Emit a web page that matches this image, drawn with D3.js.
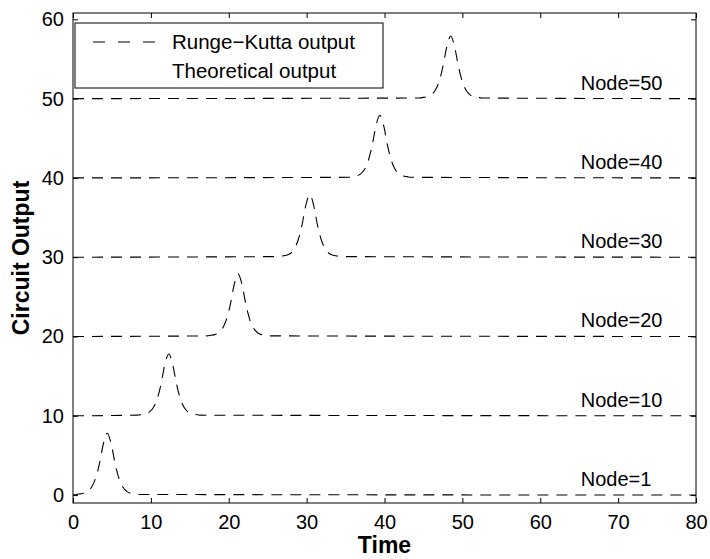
<!DOCTYPE html>
<html>
<head>
<meta charset="utf-8">
<script src="https://cdn.jsdelivr.net/npm/d3@7"></script>
<style>
  body { margin: 0; background: #fff; }
  text { font-family: "Liberation Sans", Arial, sans-serif; fill: #000; }
</style>
</head>
<body>
<div id="chart"></div>
<script>
// values
var nodes = [1, 10, 20, 30, 40, 50];
var baselines = [0, 10, 20, 30, 40, 50];
var peakTimes = [4.4, 12.3, 21.2, 30.4, 39.4, 48.5];
var peakHeights = [7.8, 7.8, 7.9, 7.9, 7.9, 7.9];
// pulse shape around the peak (time offset, fraction of peak)
var pulseOffsets = [-4, -3.5, -3, -2.5, -2, -1.5, -1, -0.5, 0, 0.5, 1, 1.5, 2, 2.5, 3, 3.5, 4];
var pulseShape   = [0.01, 0.02, 0.03, 0.06, 0.13, 0.27, 0.51, 0.83, 1, 0.83, 0.51, 0.27, 0.13, 0.06, 0.03, 0.02, 0.01];
var xTicks = [0, 10, 20, 30, 40, 50, 60, 70, 80];
var yTicks = [0, 10, 20, 30, 40, 50, 60];
var legendLabels = ["Runge\u2212Kutta output", "Theoretical output"];

var margin = {top: 13, right: 14, bottom: 56, left: 73},
    width = 710 - margin.left - margin.right,
    height = 559 - margin.top - margin.bottom;

var svg = d3.select("#chart")
  .append("svg")
    .attr("width", 710)
    .attr("height", 559)
  .append("g")
    .attr("transform", "translate(" + margin.left + "," + margin.top + ")");

var x = d3.scaleLinear().domain([0, 80]).range([0, width]);
var y = d3.scaleLinear().domain([-1, 60.8]).range([height, 0]);

// frame
svg.append("rect")
  .attr("width", width).attr("height", height)
  .attr("fill", "none").attr("stroke", "#000").attr("stroke-width", 1);

// axes with inward ticks
var xAxis = svg.append("g")
  .attr("transform", "translate(0," + height + ")")
  .call(d3.axisBottom(x).tickValues(xTicks).tickSizeInner(-5).tickSizeOuter(0).tickPadding(12));
var xTop = svg.append("g")
  .call(d3.axisTop(x).tickValues(xTicks).tickSizeInner(-5).tickSizeOuter(0).tickFormat(""));
var yAxis = svg.append("g")
  .call(d3.axisLeft(y).tickValues(yTicks).tickSizeInner(-5).tickSizeOuter(0).tickPadding(9));
var yRight = svg.append("g")
  .attr("transform", "translate(" + width + ",0)")
  .call(d3.axisRight(y).tickValues(yTicks).tickSizeInner(-5).tickSizeOuter(0).tickFormat(""));

svg.selectAll(".domain").remove();
svg.selectAll(".tick line").attr("stroke", "#000");
svg.selectAll(".tick text")
  .style("font-size", "20px")
  .style("font-family", "'Liberation Sans', Arial, sans-serif");

// axis titles
svg.append("text")
  .attr("x", x(40)).attr("y", height + 50)
  .attr("text-anchor", "middle")
  .style("font-size", "23px").style("font-weight", "bold")
  .text("Time");
svg.append("text")
  .attr("transform", "translate(" + (-44) + "," + (height / 2) + ") rotate(-90)")
  .attr("text-anchor", "middle")
  .style("font-size", "23px").style("font-weight", "bold")
  .text("Circuit Output");

// build each node's trace
var line = d3.line()
  .x(function (d) { return x(d[0]); })
  .y(function (d) { return y(d[1]); })
  .curve(d3.curveMonotoneX);

nodes.forEach(function (n, i) {
  var pts = [];
  if (peakTimes[i] + pulseOffsets[0] > 0) pts.push([0, baselines[i]]);
  for (var k = 0; k < pulseOffsets.length; k++) {
    var t = peakTimes[i] + pulseOffsets[k];
    if (t >= 0) pts.push([t, baselines[i] + peakHeights[i] * pulseShape[k]]);
  }
  pts.push([80, baselines[i]]);

  svg.append("path")
    .datum(pts)
    .attr("fill", "none")
    .attr("stroke", "#000")
    .attr("stroke-width", 1.1)
    .attr("stroke-dasharray", "11,8")
    .attr("d", line);

  svg.append("text")
    .attr("x", x(65.2)).attr("y", y(baselines[i]) - 9)
    .style("font-size", "20px")
    .text("Node=" + n);
});

// legend
var lg = svg.append("g").attr("transform", "translate(2,10)");
lg.append("rect")
  .attr("width", 308).attr("height", 65)
  .attr("fill", "#fff").attr("stroke", "#000").attr("stroke-width", 1);
lg.append("line")
  .attr("x1", 18).attr("x2", 84).attr("y1", 19).attr("y2", 19)
  .attr("stroke", "#000").attr("stroke-width", 1.1)
  .attr("stroke-dasharray", "12,13");
lg.selectAll("text.leg")
  .data(legendLabels)
  .enter().append("text")
    .attr("class", "leg")
    .attr("x", 97)
    .attr("y", function (d, i) { return 26 + i * 29; })
    .style("font-size", "20.5px")
    .text(function (d) { return d; });
</script>
</body>
</html>
